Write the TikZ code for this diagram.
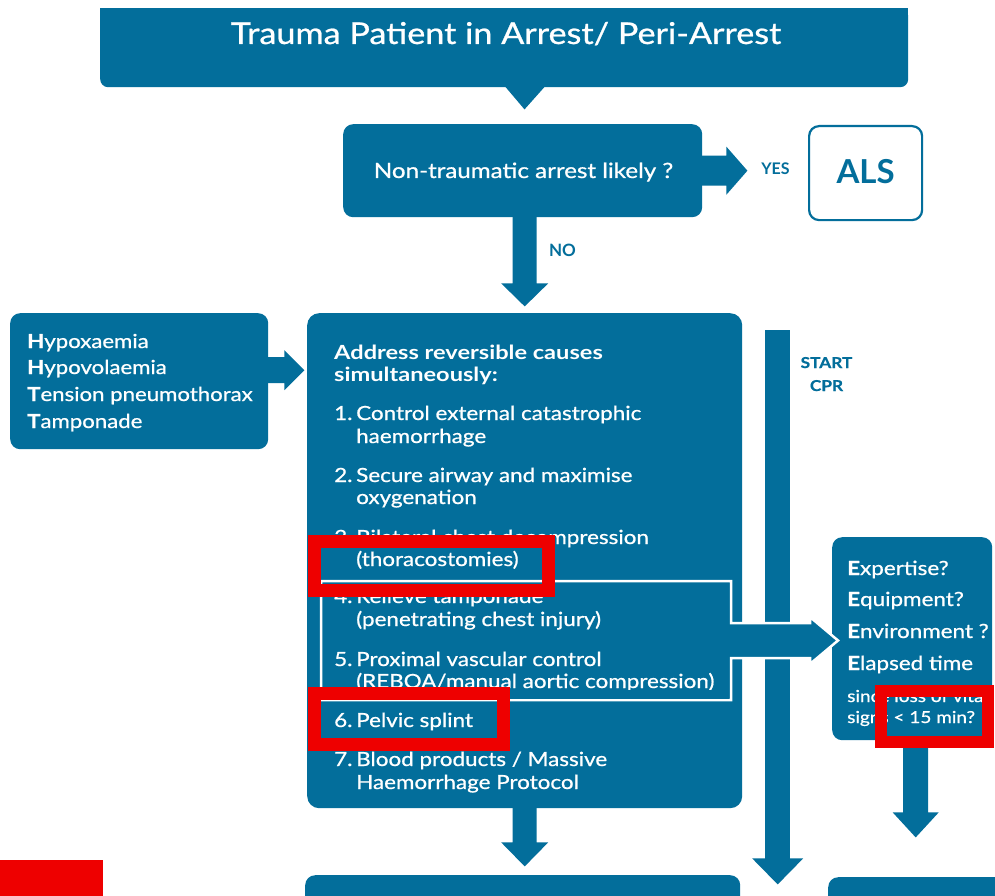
\documentclass[tikz,border=0pt]{standalone}
\usepackage{fontspec}
\setmainfont[FakeStretch=1.15, FakeBold=0.8]{Lato}
\newfontfamily\titlefont[FakeStretch=1.14, FakeBold=0.8]{Lato}
\newfontfamily\hdfont[FakeStretch=1.21]{Lato}
\newfontfamily\plainfont{Lato}
\usetikzlibrary{calc}
\definecolor{tblue}{RGB}{3,110,155}
\definecolor{tred}{RGB}{238,0,0}
\begin{document}
\begin{tikzpicture}[x=1pt,y=-1pt,
  box/.style={fill=tblue, rounded corners=10pt, inner sep=0pt, anchor=north west},
  wt/.style={text=white, inner sep=0pt, anchor=base west, font=\fontsize{19.5}{22}\selectfont},
  wtb/.style={wt, font=\hdfont\bfseries\fontsize{19.5}{22}\selectfont},
  wts/.style={wt, font=\fontsize{16.5}{18}\selectfont},
  blab/.style={text=tblue, inner sep=0pt, anchor=base, font=\plainfont\bfseries\fontsize{16}{18}\selectfont},
  redframe/.style={draw=tred, line width=13pt},
  outlinearrow/.style={fill=tblue, draw=white, line width=2.5pt, line join=miter}
]
\useasboundingbox (0,0) rectangle (995,896);
\fill[white] (0,0) rectangle (995,896);

% ---- title
\node[box, rounded corners=8pt, minimum width=808pt, minimum height=79pt] (top) at (100,8) {};
\fill[tblue] (top.north west) rectangle ($(top.north east)+(0,15)$);
\node[text=white, inner sep=0pt, anchor=base, font=\titlefont\fontsize{30}{32}\selectfont] (toptxt) at (506,44) {Trauma Patient in Arrest/ Peri-Arrest};

% ---- question
\node[box, minimum width=359pt, minimum height=93pt] (q) at (343,124) {};
\node[wt, anchor=base, font=\fontsize{21}{24}\selectfont] (qtxt) at (523.5,178) {Non-traumatic arrest likely ?};
\fill[tblue] ($(top.south west)+(405,-1)$) -- ($(top.south west)+(445,-1)$) -- ($(top.south west)+(424.5,22)$) -- cycle;

% ---- ALS
\node[draw=tblue, line width=2.2pt, fill=white, rounded corners=10pt, minimum width=113pt, minimum height=94pt, anchor=north west, inner sep=0pt] (als) at (808,125) {};
\node[text=tblue, inner sep=0pt, anchor=base, font=\plainfont\bfseries\fontsize{33}{36}\selectfont] (alstxt) at (als.center |- 0,184) {ALS};

% YES arrow
\fill[tblue] ($(q.east)+(-2,-15)$) -- ($(q.east)+(24,-15)$) -- ($(q.east)+(24,-24)$) -- ($(q.east)+(45,0)$) -- ($(q.east)+(24,24)$) -- ($(q.east)+(24,15)$) -- ($(q.east)+(-2,15)$) -- cycle;
\node[blab] (yes) at (775.5,175) {YES};

% NO arrow
\coordinate (na) at ($(q.south)+(2,-2)$);
\fill[tblue] ($(na)+(-12,0)$) -- ($(na)+(-12,68)$) -- ($(na)+(-23.5,68)$) -- ($(na)+(0,91)$) -- ($(na)+(23.5,68)$) -- ($(na)+(12,68)$) -- ($(na)+(12,0)$) -- cycle;
\node[blab, font=\plainfont\bfseries\fontsize{17}{19}\selectfont] (no) at (562.5,256) {NO};

% ---- HHTT box
\node[box, minimum width=258pt, minimum height=136pt] (hh) at (10,313) {};
\node[wt, font=\fontsize{19.3}{21}\selectfont] (h1) at (27,348) {{\bfseries H}ypoxaemia};
\node[wt, font=\fontsize{19.3}{21}\selectfont] (h2) at (27,374) {{\bfseries H}ypovolaemia};
\node[wt, font=\fontsize{19.3}{21}\selectfont] (h3) at (27,401) {{\bfseries T}ension pneumothorax};
\node[wt, font=\fontsize{19.3}{21}\selectfont] (h4) at (27,428) {{\bfseries T}amponade};
\coordinate (ha) at ($(hh.east)+(-2,-11)$);
\fill[tblue] ($(ha)+(0,-13)$) -- ($(ha)+(18,-13)$) -- ($(ha)+(18,-20)$) -- ($(ha)+(38,0)$) -- ($(ha)+(18,20)$) -- ($(ha)+(18,13)$) -- ($(ha)+(0,13)$) -- cycle;

% ---- main box
\node[box, rounded corners=12pt, minimum width=435pt, minimum height=495pt] (m) at (307,313) {};

% ---- CPR bar
\node[fill=tblue, inner sep=0pt, minimum width=25pt, minimum height=529pt, anchor=north west] (cpr) at (765,330) {};
\fill[tblue] ($(cpr.south)+(-25.5,-1)$) -- ($(cpr.south)+(25.5,-1)$) -- ($(cpr.south)+(0,25)$) -- cycle;
\node[blab, font=\bfseries\fontsize{15}{17}\selectfont] (start) at (826.5,368) {START};
\node[blab, font=\bfseries\fontsize{15}{17}\selectfont] (cprtxt) at (826.5,391) {CPR};

% ---- E box
\node[box, minimum width=160pt, minimum height=203pt] (e) at (832,537) {};
\node[wt] (e1) at (847,575) {{\bfseries E}xpertise?};
\node[wt] (e2) at (847,606) {{\bfseries E}quipment?};
\node[wt] (e3) at (847,638) {{\bfseries E}nvironment ?};
\node[wt] (e4) at (847,670) {{\bfseries E}lapsed time};
\node[wts] (e5) at (847,702) {since loss of vital};
\node[wts] (e6) at (847,723) {signs < 15 min?};

% ---- main text
\node[wtb] (hd1) at (334,359) {Address reversible causes};
\node[wtb] (hd2) at (334,381) {simultaneously:};
\node[wt] (n1) at (334,420) {1.};
\node[wt] (t1a) at (356,420) {Control external catastrophic};
\node[wt] (t1b) at (356,443) {haemorrhage};
\node[wt] (n2) at (334,482) {2.};
\node[wt] (t2a) at (356,482) {Secure airway and maximise};
\node[wt] (t2b) at (356,504) {oxygenation};
\node[wt] (n3) at (334,544) {3.};
\node[wt] (t3a) at (356,544) {Bilateral chest decompression};
\node[wt] (t3b) at (356,566) {(thoracostomies)};

% outlined group 4-5 with arrow to E box
\draw[outlinearrow] (321,581) -- (731,581) -- (731,623) -- (810,623) -- (810,617) -- (838,640.5) -- (810,664) -- (810,658) -- (731,658) -- (731,700) -- (321,700) -- cycle;
\node[wt] (n4) at (334,603) {4.};
\node[wt] (t4a) at (356,603) {Relieve tamponade};
\node[wt] (t4b) at (356,626) {(penetrating chest injury)};
\node[wt] (n5) at (334,666) {5.};
\node[wt] (t5a) at (356,666) {Proximal vascular control};
\node[wt] (t5b) at (356,688) {(REBOA/manual aortic compression)};
\fill[tblue] (323,583.5) rectangle (729,592);
\fill[tblue] (323,689.5) rectangle (729,698.5);

\node[wt] (n6) at (334,727) {6.};
\node[wt] (t6a) at (356,727) {Pelvic splint};
\node[wt] (n7) at (334,766) {7.};
\node[wt] (t7a) at (356,766) {Blood products / Massive};
\node[wt] (t7b) at (356,789) {Haemorrhage Protocol};

% ---- down arrows to next boxes
\coordinate (ma) at ($(m.south)+(0,-2)$);
\fill[tblue] ($(ma)+(-12,0)$) -- ($(ma)+(-12,36)$) -- ($(ma)+(-23.5,36)$) -- ($(ma)+(0,60)$) -- ($(ma)+(23.5,36)$) -- ($(ma)+(12,36)$) -- ($(ma)+(12,0)$) -- cycle;
\coordinate (ea) at ($(e.south)+(3.5,-2)$);
\fill[tblue] ($(ea)+(-12.5,0)$) -- ($(ea)+(-12.5,74)$) -- ($(ea)+(-23,74)$) -- ($(ea)+(0,99)$) -- ($(ea)+(23,74)$) -- ($(ea)+(12.5,74)$) -- ($(ea)+(12.5,0)$) -- cycle;

\node[box, minimum width=435pt, minimum height=60pt] (b1) at (305,875) {};
\node[box, minimum width=200pt, minimum height=60pt] (b2) at (828,877) {};

% ---- red highlight frames
\draw[redframe] (314,541) rectangle (548,590);
\draw[redframe] (314,693) rectangle (503,744);
\draw[redframe, line width=12pt] (881,691) rectangle (987.5,742);
\fill[tred] (0,860) rectangle (103,896);
\end{tikzpicture}
\end{document}
